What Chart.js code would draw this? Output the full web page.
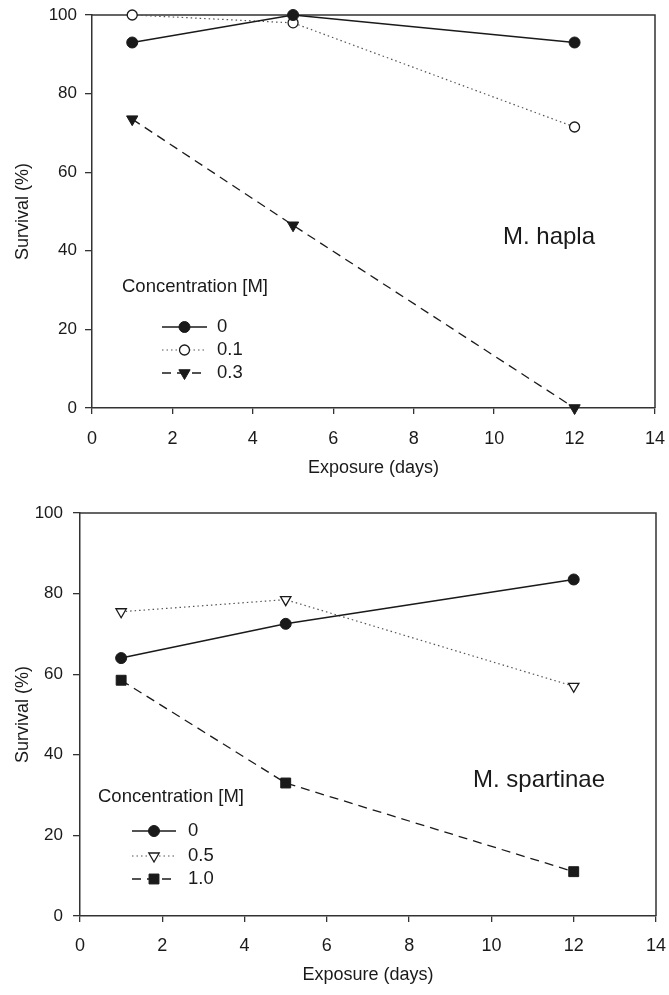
<!DOCTYPE html>
<html><head><meta charset="utf-8">
<script src="https://cdn.jsdelivr.net/npm/chart.js@4"></script>
<style>
html,body{margin:0;padding:0;background:#fff;}
#c1{position:absolute;left:0;top:0;}
#c2{position:absolute;left:0;top:490px;}
</style></head><body>
<canvas id="c1" width="669" height="490"></canvas>
<canvas id="c2" width="669" height="505"></canvas>
<script>
// ---- data ----
const days = [1, 5, 12];
const xTicks = [0, 2, 4, 6, 8, 10, 12, 14];
const yTicks = [0, 20, 40, 60, 80, 100];

const haplaLabels = ['0', '0.1', '0.3'];
const hapla0  = [93, 100, 93];
const hapla01 = [100, 98, 71.5];
const hapla03 = [73.5, 46.5, 0];

const spartLabels = ['0', '0.5', '1.0'];
const spart0  = [64, 72.5, 83.5];
const spart05 = [75.5, 78.5, 57];
const spart10 = [58.5, 33, 11];

const FONT = "'Liberation Sans', Arial, sans-serif";
const INK = '#1a1a1a';
Chart.defaults.font.family = FONT;
Chart.defaults.color = INK;

const pts = vals => days.map((d, i) => ({x: d, y: vals[i]}));

function solidSeries(label, vals) {
  return {label, data: pts(vals), borderColor: INK, borderWidth: 1.5, pointStyle: 'circle',
    pointRadius: 5.5, pointBackgroundColor: INK, pointBorderColor: INK, pointBorderWidth: 1};
}
function dottedSeries(label, vals, style) {
  const tri = style === 'triangle';
  return {label, data: pts(vals), borderColor: '#555', borderWidth: 1.2, borderDash: [1.5, 3],
    pointStyle: style, pointRotation: tri ? 180 : 0, pointRadius: tri ? 6 : 5,
    pointBackgroundColor: '#fff', pointBorderColor: INK, pointBorderWidth: 1.3};
}
function dashedSeries(label, vals, style) {
  const tri = style === 'triangle';
  return {label, data: pts(vals), borderColor: INK, borderWidth: 1.3, borderDash: [9, 6],
    pointStyle: style, pointRotation: tri ? 180 : 0, pointRadius: tri ? 6.5 : 7,
    pointBackgroundColor: INK, pointBorderColor: INK, pointBorderWidth: 1};
}

const framePlugin = {
  id: 'frame',
  beforeDatasetsDraw(chart) {
    const {ctx, chartArea: a} = chart;
    ctx.save();
    ctx.strokeStyle = '#333';
    ctx.lineWidth = 1.5;
    ctx.beginPath();
    ctx.moveTo(a.left, a.top); ctx.lineTo(a.right, a.top); ctx.lineTo(a.right, a.bottom);
    ctx.stroke();
    ctx.restore();
  }
};

const legendPlugin = {
  id: 'inlegend',
  afterDraw(chart, args, o) {
    const ctx = chart.ctx;
    ctx.save();
    ctx.fillStyle = INK;
    ctx.textBaseline = 'middle';
    ctx.textAlign = 'left';
    ctx.font = `18.5px ${FONT}`;
    ctx.fillText(o.title, o.titleX, o.titleY);
    chart.data.datasets.forEach((ds, i) => {
      const y = o.rowY[i];
      ctx.save();
      ctx.strokeStyle = ds.borderColor;
      ctx.lineWidth = ds.borderWidth;
      ctx.setLineDash(ds.borderDash || []);
      ctx.beginPath(); ctx.moveTo(o.lineX0, y); ctx.lineTo(o.lineX1, y); ctx.stroke();
      ctx.setLineDash([]);
      ctx.fillStyle = ds.pointBackgroundColor;
      ctx.strokeStyle = ds.pointBorderColor;
      ctx.lineWidth = ds.pointBorderWidth;
      Chart.helpers.drawPoint(ctx, {pointStyle: ds.pointStyle, rotation: ds.pointRotation || 0,
        radius: ds.pointRadius, borderWidth: ds.pointBorderWidth}, (o.lineX0 + o.lineX1) / 2, y);
      ctx.restore();
      ctx.fillStyle = INK;
      ctx.font = `18.5px ${FONT}`;
      ctx.fillText(ds.label, o.labelX, y);
    });
    ctx.font = `24px ${FONT}`;
    ctx.fillText(o.species, o.speciesX, o.speciesY);
    ctx.restore();
  }
};

function makeChart(id, datasets, L) {
  return new Chart(document.getElementById(id), {
    type: 'line',
    data: {datasets},
    plugins: [framePlugin, legendPlugin],
    options: {
      responsive: false, animation: false, devicePixelRatio: 1,
      clip: false,
      layout: {padding: {left: 0, top: L.padTop, right: L.padRight, bottom: 0}},
      plugins: {legend: {display: false}, tooltip: {enabled: false}, inlegend: L.legend},
      scales: {
        x: {
          type: 'linear', min: 0, max: 14,
          afterBuildTicks: s => { s.ticks = xTicks.map(v => ({value: v})); },
          afterFit: s => { s.height = L.xH; s.paddingLeft = 0; s.paddingRight = 0; },
          grid: {display: true, drawOnChartArea: false, drawTicks: true, tickLength: 6, color: '#333', lineWidth: 1.3},
          border: {display: true, color: '#333', width: 1.5},
          ticks: {font: {size: 18}, color: INK, padding: L.xTickPad, maxRotation: 0},
          title: {display: true, text: 'Exposure (days)', font: {size: 18}, color: INK,
            padding: {top: 0, bottom: L.xTitlePad}}
        },
        y: {
          type: 'linear', min: 0, max: 100,
          afterBuildTicks: s => { s.ticks = yTicks.map(v => ({value: v})); },
          afterFit: s => { s.width = L.yW; s.paddingTop = 0; s.paddingBottom = 0; },
          grid: {display: true, drawOnChartArea: false, drawTicks: true, tickLength: 7, color: '#333', lineWidth: 1.3},
          border: {display: true, color: '#333', width: 1.5},
          ticks: {font: {size: 17}, color: INK, padding: L.yTickPad},
          title: {display: true, text: 'Survival (%)', font: {size: 18}, color: INK,
            padding: {top: 12, bottom: 0}}
        }
      }
    }
  });
}

makeChart('c1', [
  solidSeries(haplaLabels[0], hapla0),
  dottedSeries(haplaLabels[1], hapla01, 'circle'),
  dashedSeries(haplaLabels[2], hapla03, 'triangle')
], {
  padTop: 15, padRight: 14, xH: 82, yW: 92, xTickPad: 14, xTitlePad: 11, yTickPad: 8,
  legend: {title: 'Concentration [M]', titleX: 122, titleY: 287, rowY: [327, 350, 373],
    lineX0: 162, lineX1: 207, labelX: 217, species: 'M. hapla', speciesX: 503, speciesY: 237}
});

makeChart('c2', [
  solidSeries(spartLabels[0], spart0),
  dottedSeries(spartLabels[1], spart05, 'triangle'),
  dashedSeries(spartLabels[2], spart10, 'rect')
], {
  padTop: 23, padRight: 13, xH: 79, yW: 80, xTickPad: 13, xTitlePad: 9, yTickPad: 10,
  legend: {title: 'Concentration [M]', titleX: 98, titleY: 307, rowY: [341, 366, 389],
    lineX0: 132, lineX1: 176, labelX: 188, species: 'M. spartinae', speciesX: 473, speciesY: 290}
});
</script>
</body></html>
